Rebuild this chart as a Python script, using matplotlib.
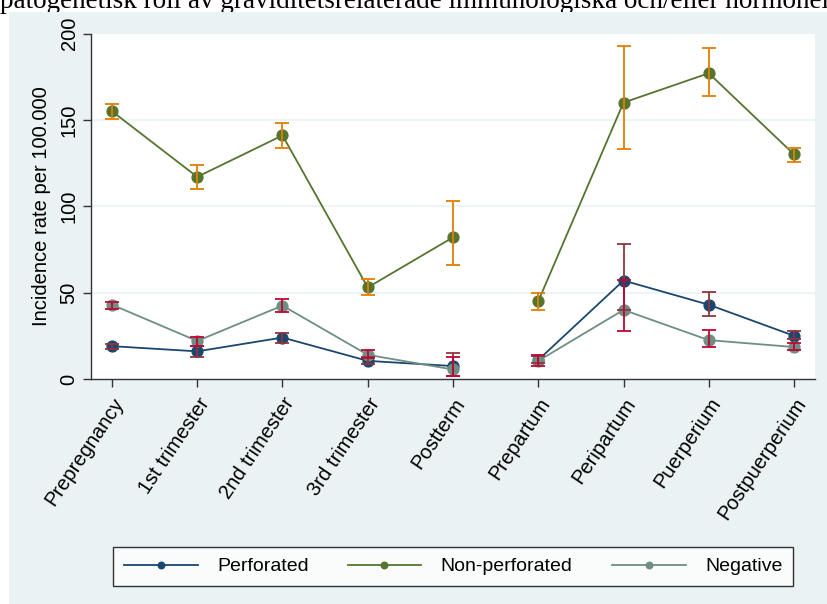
import matplotlib.pyplot as plt
from matplotlib.patches import Rectangle
import numpy as np

# --- data: incidence rate per 100.000 with 95% CI
periods = ['Prepregnancy', '1st trimester', '2nd trimester', '3rd trimester', 'Postterm',
           'Prepartum', 'Peripartum', 'Puerperium', 'Postpuerperium']

perf = [19, 16, 24, 10.5, 7.5, 11, 57, 43, 25]
perf_lo = [17.5, 12.5, 21, 8.5, 2, 9, 40, 36.5, 23]
perf_hi = [20.5, 19, 26.5, 13, 15, 13.5, 78, 50.5, 27.5]

nonperf = [155, 117, 141, 53, 82, 45, 160, 177, 130]
nonperf_lo = [150.5, 110, 133.5, 48.5, 66, 40, 133, 164, 125.5]
nonperf_hi = [159, 124, 148, 58, 103, 49.5, 193, 191.5, 133.5]

neg = [43, 22, 42.5, 14, 5.5, 10.5, 40, 22.5, 18.5]
neg_lo = [40.5, 19, 38.5, 12, 2, 7.5, 28, 18.5, 16.5]
neg_hi = [44.5, 24.5, 46.5, 17, 13, 14, 57.5, 28.5, 21]

# stata s2color palette
navy = '#1a476f'
forest = '#55752f'
teal = '#6e8e84'
maroon = '#90353b'
dkorange = '#e37e00'
cranberry = '#c10534'
bg = '#eaf2f3'

plt.rcParams['font.family'] = ['Liberation Sans', 'DejaVu Sans']

fig = plt.figure(figsize=(8.27, 6.04), dpi=100)
W, H = 827, 604
fig.add_artist(Rectangle((9 / W, 0), 1 - 9 / W, 1 - 12 / H, transform=fig.transFigure,
                         facecolor=bg, edgecolor='none', zorder=0))
fig.text(0.0, 1 - 7.5 / H, 'patogenetisk roll av graviditetsrelaterade immunologiska och/eller hormonel',
         family='Liberation Serif', fontsize=19.5, va='baseline', ha='left', zorder=-1)

ax = fig.add_axes([91 / W, 1 - 379 / H, (815 - 91) / W, (379 - 33.5) / H])
ax.set_facecolor('white')

x = np.arange(1, len(periods) + 1)
segs = [slice(0, 5), slice(5, 9)]  # pregnancy / delivery periods are drawn unconnected

series = [
    (perf, perf_lo, perf_hi, navy, maroon, 'Perforated'),
    (nonperf, nonperf_lo, nonperf_hi, forest, dkorange, 'Non-perforated'),
    (neg, neg_lo, neg_hi, teal, cranberry, 'Negative'),
]

handles = []
for vals, lo, hi, lc, cc, name in series:
    vals = np.array(vals)
    for s in segs:
        h, = ax.plot(x[s], vals[s], '-o', color=lc, lw=1.3, ms=7.8, zorder=3, label=name)
    handles.append(h)

for vals, lo, hi, lc, cc, name in series:
    vals, lo, hi = np.array(vals), np.array(lo), np.array(hi)
    ax.errorbar(x, vals, yerr=[vals - lo, hi - vals], fmt='none', ecolor=cc,
                elinewidth=1.3, capsize=5, capthick=1.3, zorder=4)

ax.set_xlim(0.754, 9.246)
ax.set_ylim(0, 200)
ax.set_yticks([0, 50, 100, 150, 200])
ax.set_yticklabels(['0', '50', '100', '150', '200'], rotation=90, va='center')
ax.set_xticks(x)
ax.set_xticklabels(periods, rotation=56, ha='right', rotation_mode='anchor')
ax.tick_params(labelsize=14.5, length=6, width=1, color='#333333', pad=3)
ax.tick_params(axis='x', pad=5)
ax.set_ylabel('Incidence rate per 100.000', fontsize=14.5, labelpad=6)

for y in [50, 100, 150]:
    ax.axhline(y, color=bg, lw=1.2, zorder=1)
for side in ['top', 'right']:
    ax.spines[side].set_visible(False)
for side in ['left', 'bottom']:
    ax.spines[side].set_color('#333333')
    ax.spines[side].set_linewidth(1)

leg = fig.legend(handles=handles, loc='center', bbox_to_anchor=(453 / W, 1 - 566.5 / H),
                 ncol=3, fontsize=14, frameon=True, fancybox=False, edgecolor='black',
                 handlelength=3.8, handletextpad=1.0, columnspacing=2.0, markerscale=0.6,
                 borderpad=0.55)
leg.get_frame().set_linewidth(1)

fig.savefig('out.png', dpi=100, facecolor='white')
